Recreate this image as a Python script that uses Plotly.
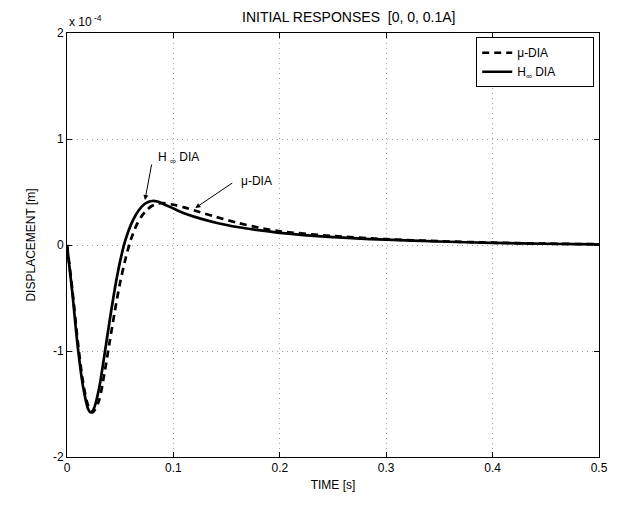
import plotly.graph_objects as go

# time [s]
t_hinf = [0, 0.005, 0.01, 0.015, 0.02, 0.0223, 0.025, 0.03, 0.035, 0.04, 0.045, 0.05,
          0.055, 0.06, 0.065, 0.07, 0.075, 0.08, 0.085, 0.09, 0.1, 0.11, 0.12, 0.14,
          0.16, 0.18, 0.2, 0.25, 0.3, 0.35, 0.4, 0.45, 0.5]
# displacement x 1e-4 [m]
y_hinf = [0, -0.45, -0.95, -1.33, -1.55, -1.58, -1.55, -1.36, -1.05, -0.72, -0.41, -0.15,
          0.05, 0.19, 0.29, 0.36, 0.40, 0.415, 0.41, 0.39, 0.345, 0.30, 0.265, 0.21,
          0.17, 0.14, 0.115, 0.075, 0.05, 0.033, 0.02, 0.012, 0.006]

t_mu = [0, 0.005, 0.01, 0.015, 0.02, 0.024, 0.03, 0.035, 0.04, 0.045, 0.05, 0.055,
        0.06, 0.065, 0.07, 0.075, 0.08, 0.085, 0.09, 0.1, 0.11, 0.12, 0.14, 0.16,
        0.18, 0.2, 0.25, 0.3, 0.35, 0.4, 0.45, 0.5]
y_mu = [0, -0.42, -0.9, -1.29, -1.52, -1.58, -1.47, -1.22, -0.92, -0.62, -0.35, -0.13,
        0.05, 0.18, 0.27, 0.33, 0.37, 0.39, 0.395, 0.38, 0.355, 0.325, 0.265, 0.21,
        0.165, 0.13, 0.085, 0.055, 0.036, 0.022, 0.013, 0.007]

x_ticks = [0, 0.1, 0.2, 0.3, 0.4, 0.5]
x_ticklabels = ["0", "0.1", "0.2", "0.3", "0.4", "0.5"]
y_ticks = [-2, -1, 0, 1, 2]
y_ticklabels = ["-2", "-1", "0", "1", "2"]

FONT = "Liberation Sans, Arial, sans-serif"
NB = "\u00a0"

fig = go.Figure()
fig.add_trace(go.Scatter(x=t_mu, y=y_mu, mode="lines", name="\u03bc-DIA" + NB * 12,
                         line=dict(color="black", width=2.7, dash="7px,5px", shape="spline",
                                   smoothing=0.8)))
fig.add_trace(go.Scatter(x=t_hinf, y=y_hinf, mode="lines", name="H<sub>\u221e</sub> DIA" + NB * 8,
                         line=dict(color="black", width=2.7, shape="spline", smoothing=0.8)))

# plot box in page pixels
W, H = 620, 506
PL, PR, PT, PB = 67, 606, 33, 457
L, T, R, B = PL, PT, W - PR, H - PB
pw = PR - PL
ph = PB - PT

def px2x(px):
    return (px - PL) / pw * 0.5

def py2y(py):
    return 2 - (py - PT) / ph * 4

axis_common = dict(showline=True, linecolor="black", linewidth=1, mirror="ticks",
                   ticks="inside", ticklen=5, tickcolor="black",
                   showgrid=True, gridcolor="#a0a0a0", griddash="1px,4px", gridwidth=1,
                   zeroline=False, tickfont=dict(family=FONT, size=12, color="black"))

fig.update_xaxes(range=[0, 0.5], tickvals=x_ticks, ticktext=x_ticklabels,
                 title=dict(text="TIME [s]", font=dict(family=FONT, size=12, color="black"), standoff=6),
                 **axis_common)
fig.update_yaxes(range=[-2, 2], tickvals=y_ticks, ticktext=y_ticklabels,
                 title=dict(text="DISPLACEMENT [m]", font=dict(family=FONT, size=12, color="black"), standoff=14),
                 **axis_common)

annotations = [
    dict(text="INITIAL RESPONSES  [0, 0, 0.1A]", xref="paper", yref="paper",
         x=(352 - PL) / pw, y=1, yshift=6, xanchor="center", yanchor="bottom", showarrow=False,
         font=dict(family=FONT, size=14, color="black")),
    dict(text="x 10<sup> -4</sup>", xref="paper", yref="paper", x=0, y=1, yshift=2,
         xanchor="left", yanchor="bottom", showarrow=False,
         font=dict(family=FONT, size=12, color="black")),
    # H-inf label + arrow
    dict(text="H" + NB + "<sub>\u221e</sub>" + NB + "DIA", x=px2x(157), y=py2y(158),
         xanchor="left", yanchor="middle",
         showarrow=False, font=dict(family=FONT, size=12, color="black")),
    dict(text="", x=px2x(146), y=py2y(200), ax=px2x(153), ay=py2y(163), axref="x", ayref="y",
         showarrow=True, arrowhead=2, arrowsize=1, arrowwidth=1, arrowcolor="black", standoff=0),
    # mu label + arrow
    dict(text="\u03bc-DIA", x=px2x(241), y=py2y(181), xanchor="left", yanchor="middle",
         showarrow=False, font=dict(family=FONT, size=12, color="black")),
    dict(text="", x=px2x(197), y=py2y(208), ax=px2x(236), ay=py2y(182), axref="x", ayref="y",
         showarrow=True, arrowhead=2, arrowsize=1, arrowwidth=1, arrowcolor="black", standoff=0),
]

fig.update_layout(
    width=W, height=H,
    margin=dict(l=L, r=R, t=T, b=B),
    paper_bgcolor="white", plot_bgcolor="white",
    font=dict(family=FONT, size=12, color="black"),
    showlegend=True,
    legend=dict(x=0.991, y=0.99, xanchor="right", yanchor="top",
                bgcolor="white", bordercolor="black", borderwidth=1,
                font=dict(family=FONT, size=12, color="black"),
                tracegroupgap=0, itemwidth=30),
    annotations=annotations,
)

fig.write_html("out.html", config={"displayModeBar": False, "staticPlot": True},
               post_script="document.body.style.margin='0';document.body.style.overflow='hidden';")
